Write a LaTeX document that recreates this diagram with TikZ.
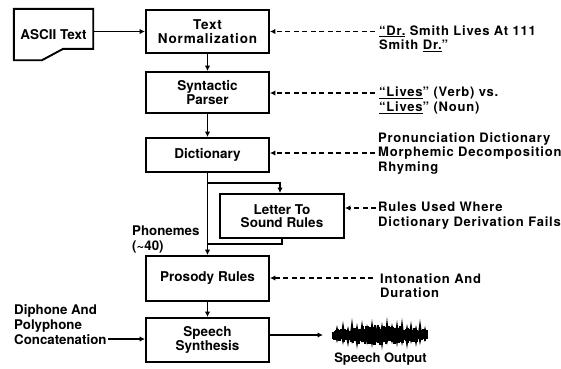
\documentclass[tikz,border=0pt]{standalone}
\usepackage{fontspec}
\setmainfont{TeX Gyre Heros}
\newfontfamily\notefont[LetterSpace=6]{TeX Gyre Heros}
\usetikzlibrary{arrows.meta,calc}

\begin{document}
\begin{tikzpicture}[x=1pt,y=-1pt,
  box/.style={draw,line width=1.9pt,minimum width=123pt,inner sep=0pt,align=center,
    font=\fontsize{13.5}{13.3}\selectfont\bfseries},
  label/.style={anchor=west,align=left,inner sep=0pt,
    font=\fontsize{13.3}{15}\selectfont\bfseries},
  note/.style={anchor=west,align=left,inner sep=0pt,
    font=\notefont\fontsize{13}{14.5}\selectfont\bfseries},
  flow/.style={line width=1.8pt,-{Latex[length=5.5pt,width=5.5pt]}},
  hint/.style={line width=1.6pt,dash pattern=on 5pt off 3.5pt,-{Latex[length=5.5pt,width=5.5pt]}},
]
\useasboundingbox (0,0) rectangle (561,368);

% input document
\node[minimum width=79pt,minimum height=51pt,inner sep=0pt,
      font=\fontsize{13.5}{13}\selectfont\bfseries] (ascii) at (53.5,34.5) {ASCII Text};
\draw[line width=1.9pt,line join=miter] (ascii.north west) -- (ascii.north east)
  -- ($(ascii.north east)+(0,40)$) -- ($(ascii.north east)+(-30,40)$)
  -- (ascii.south west -| 42,0) -- (ascii.south west) -- cycle;

% processing chain
\node[box,minimum height=43pt,font=\notefont\fontsize{13.5}{14}\selectfont\bfseries] (tn) at (207.5,31.5) {Text\\Normalization};
\node[box,minimum height=41pt] (sp) at (207.5,92.5) {Syntactic\\Parser};
\node[box,minimum height=34pt] (dict) at (207.5,155) {Dictionary};
\node[box,minimum width=124pt,minimum height=44pt] (lts) at (282,216) {Letter To\\Sound Rules};
\node[box,minimum height=45pt] (pr) at (207.5,278.5) {Prosody Rules};
\node[box,minimum height=44pt] (ss) at (207.5,340) {Speech\\Synthesis};

\draw[flow] (ascii.east |- tn) -- (tn);
\draw[flow] (tn) -- (sp);
\draw[flow] (sp) -- (dict);
\draw[flow] (dict) -- (pr);
\draw[flow] (pr) -- (ss);

% letter-to-sound side branch
\coordinate (br) at (207.5,183);
\coordinate (back) at (207.5,244);
\draw[flow] (br) -| ($(lts.north)+(-2,0)$);
\draw[line width=1.8pt] (lts.south) |- (back);

% annotations
\node[note] (a1) at (379,38.5) {\underline{“Dr.} Smith Lives At 111\\Smith \underline{Dr.}”};
\node[note] (a2) at (379,100.5) {\underline{“Lives}” (Verb) vs.\\\underline{“Lives}” (Noun)};
\node[note] (a3) at (378,153.5) {Pronunciation Dictionary\\Morphemic Decomposition\\Rhyming};
\node[note] (a4) at (378,215.5) {Rules Used Where\\Dictionary Derivation Fails};
\node[note] (a5) at (380,285.5) {Intonation And\\Duration};

\coordinate (h1) at (375,31.5);
\coordinate (h2) at (375,93);
\coordinate (h3) at (375,153);
\coordinate (h4) at (376,208);
\coordinate (h5) at (373,278);
\draw[hint] (h1) -- (tn.east |- h1);
\draw[hint] (h2) -- (sp.east |- h2);
\draw[hint] (h3) -- (dict.east |- h3);
\draw[hint] (h4) -- (lts.east |- h4);
\draw[hint] (h5) -- (pr.east |- h5);

% left-hand labels
\node[label] (phon) at (132,239.5) {Phonemes\\(\textasciitilde40)};
\node[label] (diph) at (14,325) {Diphone And\\Polyphone\\Concatenation};
\coordinate (dout) at (108,339);
\draw[flow] (dout) -- (ss.west |- dout);

% speech output waveform: dense core plus sharp peaks
\coordinate (wavein) at (323,335);
\draw[flow] (ss.east |- wavein) -- (wavein);
\pgfmathsetseed{42}
\foreach \i in {0,...,94}{
  \pgfmathsetmacro\env{0.5+0.5*sin((\i+2)*1.8367)}
  \pgfmathsetmacro\up{\env*(5+5*rnd)}
  \pgfmathsetmacro\dn{\env*(5+5*rnd)}
  \draw[line width=1.3pt] (333+\i,335-\up) -- (333+\i,335+\dn);
}
\foreach \px/\h/\d in {337/10/8, 343/14/10, 348/9/12, 352/17/9, 357/12/14, 362/15/8,
    367/11/10, 372/16/13, 377/10/8, 382/13/15, 387/18/10, 392/12/9, 397/15/12,
    402/17/11, 407/11/14, 411/14/9, 416/10/12, 420/16/10, 425/9/7}
  \fill (\px-2.2,335) -- (\px,335-\h) -- (\px+2.2,335) -- (\px,335+\d) -- cycle;
\node[font=\fontsize{13}{13}\selectfont\bfseries,inner sep=0pt] (so) at (380.5,359) {Speech Output};
\end{tikzpicture}
\end{document}
